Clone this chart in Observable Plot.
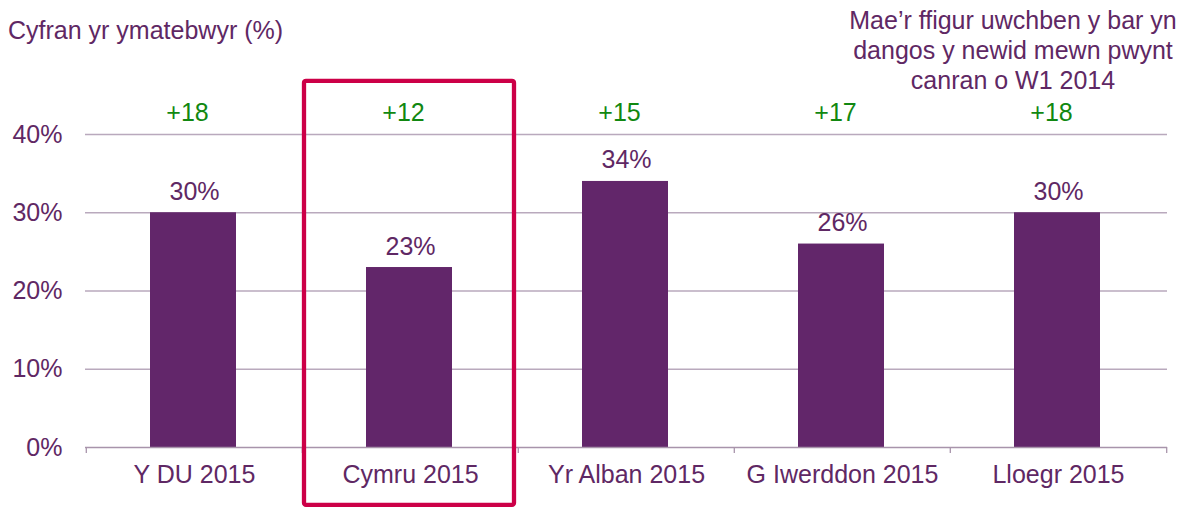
<!DOCTYPE html>
<html>
<head>
<meta charset="utf-8">
<script src="https://cdn.jsdelivr.net/npm/d3@7"></script>
<script src="https://cdn.jsdelivr.net/npm/@observablehq/plot@0.6"></script>
<style>
  html, body { margin: 0; padding: 0; background: #fff; }
  #wrap { position: relative; width: 1187px; height: 509px; font-family: "Liberation Sans", Arial, sans-serif; color: #5f2864; }
  #title { position: absolute; left: 8px; top: 15px; font-size: 25px; line-height: 30px; white-space: nowrap; }
  #note { position: absolute; left: 813px; top: 5px; width: 400px; text-align: center; font-size: 25px; line-height: 30px; }
  #chart { position: absolute; left: 0; top: 0; }
</style>
</head>
<body>
<div id="wrap">
  <div id="chart"></div>
  <div id="title">Cyfran yr ymatebwyr (%)</div>
  <div id="note">Mae’r ffigur uwchben y bar yn<br>dangos y newid mewn pwynt<br>canran o W1 2014</div>
</div>
<script>
const categories = ["Y DU 2015", "Cymru 2015", "Yr Alban 2015", "G Iwerddon 2015", "Lloegr 2015"];
const values = [30, 23, 34, 26, 30];
const changes = ["+18", "+12", "+15", "+17", "+18"];
const yTicks = [0, 10, 20, 30, 40];
const highlight = ["Cymru 2015"];
const highlightExtent = [-7.4, 46.8];

const data = categories.map((c, i) => ({cat: c, value: values[i], change: changes[i]}));

const W = 1187, H = 509, mL = 85, mR = 20, mT = 134, mB = 62;
const half = (W - mL - mR) / categories.length / 2;

const purple = "#62266a";
const textPurple = "#5f2864";
const grid = "#b9a9bd";

const chart = Plot.plot({
  width: W,
  height: H,
  marginLeft: mL,
  marginRight: mR,
  marginTop: mT,
  marginBottom: mB,
  style: {fontFamily: "'Liberation Sans', Arial, sans-serif", fontSize: "25px", color: textPurple, background: "transparent", overflow: "visible"},
  x: {domain: categories, padding: 0, label: null},
  y: {domain: [0, 40], label: null},
  marks: [
    Plot.ruleY(yTicks.filter(d => d > 0), {stroke: grid, strokeWidth: 1.3}),
    Plot.axisY({ticks: yTicks, tickFormat: d => d + "%", tickSize: 0, tickPadding: 23, fill: textPurple, label: null}),
    Plot.barY(data, {x: "cat", y: "value", fill: purple, insetLeft: 64, insetRight: 66}),
    Plot.ruleY([0], {stroke: "#a894ab", strokeWidth: 1.3}),
    Plot.ruleX(categories, {x: d => d, dx: -half, y1: 0, y2: -0.77, stroke: "#a894ab", strokeWidth: 1.3}),
    Plot.ruleX([categories[categories.length - 1]], {x: d => d, dx: half, y1: 0, y2: -0.77, stroke: "#a894ab", strokeWidth: 1.3}),
    Plot.axisX({tickSize: 0, tickPadding: 18, fill: textPurple, label: null}),
    Plot.text(data, {x: "cat", y: "value", text: d => d.value + "%", dy: -21, lineAnchor: "middle", fill: textPurple}),
    Plot.text(data, {x: "cat", y: 40, text: "change", dx: -7, dy: -22, lineAnchor: "middle", fill: "#118811"}),
    Plot.barY(highlight.map(c => ({cat: c, y1: highlightExtent[0], y2: highlightExtent[1]})),
      {x: "cat", y1: "y1", y2: "y2", fill: "none", stroke: "#cc0047", strokeWidth: 4.3, rx: 2, insetLeft: 2, insetRight: 4})
  ]
});
document.getElementById("chart").appendChild(chart);
</script>
</body>
</html>
